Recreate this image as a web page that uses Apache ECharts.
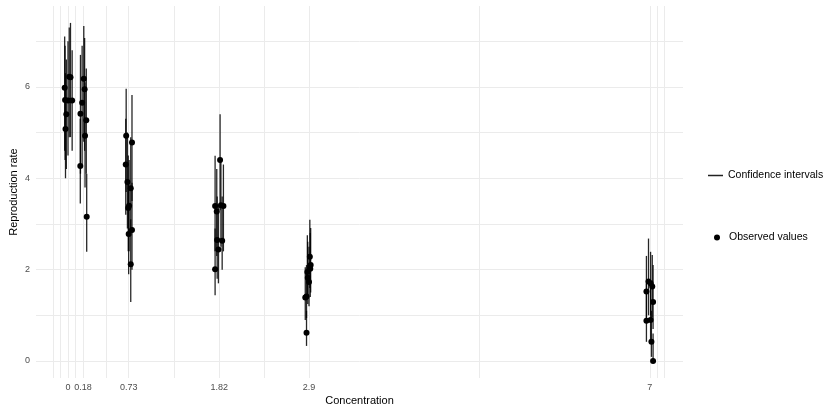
<!DOCTYPE html>
<html>
<head>
<meta charset="utf-8">
<script src="https://cdn.jsdelivr.net/npm/echarts@6/dist/echarts.min.js"></script>
<style>
  html, body { margin: 0; padding: 0; background: #fff; }
  #chart { width: 823px; height: 406px; }
</style>
</head>
<body>
<div id="chart"></div>
<script>
// x tick labels (concentrations) and grid positions
var xLabels = [0, 0.18, 0.73, 1.82, 2.9, 7];
var xGrid = [-0.18, -0.09, 0, 0.09, 0.18, 0.455, 0.73, 1.275, 1.82, 2.36, 2.9, 4.95, 7, 7.09, 7.18];
var yLabels = [0, 2, 4, 6];
var yGrid = [0, 1, 2, 3, 4, 5, 6, 7];

// jittered concentration of each observation
var xJit = [
  -0.04, -0.035, 0.03, 0.05, -0.03, 0.0, 0.015, -0.02,
  0.19, 0.20, 0.17, 0.15, 0.22, 0.205, 0.148, 0.225,
  0.70, 0.77, 0.695, 0.715, 0.755, 0.725, 0.735, 0.73, 0.77, 0.755,
  1.83, 1.77, 1.84, 1.87, 1.79, 1.795, 1.855, 1.81, 1.77,
  2.91, 2.92, 2.88, 2.885, 2.90, 2.87, 2.855, 2.87, 2.915,
  6.985, 7.01, 7.03, 6.96, 7.04, 6.96, 7.01, 7.02, 7.04
];
// observed reproduction rate
var rate = [
  5.98, 5.71, 6.21, 5.70, 5.08, 5.70, 6.22, 5.40,
  6.18, 5.95, 5.65, 5.41, 5.27, 4.93, 4.27, 3.16,
  4.93, 4.78, 4.30, 3.92, 3.78, 3.35, 3.40, 2.78, 2.87, 2.12,
  4.40, 3.39, 3.41, 3.39, 3.27, 2.65, 2.63, 2.44, 2.01,
  2.28, 2.10, 1.95, 1.82, 1.73, 1.41, 1.39, 0.62, 2.02,
  1.74, 1.70, 1.63, 1.52, 1.29, 0.88, 0.90, 0.42, 0.00
];
// confidence interval bounds
var ciLow = [
  4.6, 4.4, 4.9, 4.6, 4.0, 4.5, 4.9, 4.2,
  4.8, 4.6, 4.3, 4.1, 4.1, 3.8, 3.45, 2.39,
  3.7, 3.5, 3.2, 2.9, 2.8, 2.4, 2.4, 1.9, 2.0, 1.29,
  3.3, 2.4, 2.5, 2.4, 2.3, 1.8, 2.0, 1.7, 1.44,
  1.6, 1.5, 1.35, 1.25, 1.2, 0.94, 0.9, 0.33, 1.4,
  1.0, 1.0, 0.95, 0.85, 0.7, 0.42, 0.45, 0.09, 0.0
];
var ciHigh = [
  7.1, 6.9, 7.4, 6.8, 6.3, 7.0, 7.3, 6.6,
  7.33, 7.07, 6.9, 6.7, 6.4, 6.1, 5.3, 4.1,
  5.96, 5.82, 5.3, 5.0, 4.9, 4.5, 4.4, 3.9, 3.9, 3.1,
  5.40, 4.49, 4.45, 4.3, 4.2, 3.6, 3.6, 3.4, 2.9,
  3.09, 2.91, 2.75, 2.61, 2.5, 2.1, 2.05, 1.1, 2.8,
  2.68, 2.39, 2.32, 2.3, 2.1, 1.7, 1.75, 1.1, 0.6
];

var chart = echarts.init(document.getElementById("chart"));

var ciData = xJit.map(function (x, i) { return [x, ciLow[i], ciHigh[i]]; });
var obsData = xJit.map(function (x, i) { return [x, rate[i]]; });

var font = "Liberation Sans, Arial, sans-serif";

var option = {
  animation: false,
  backgroundColor: "#fff",
  grid: { left: 36, right: 140, top: 6, bottom: 28, outerBoundsMode: "none", containLabel: false },
  legend: [
    {
      data: [{ name: "Confidence intervals", icon: "rect" }],
      orient: "vertical",
      left: 703,
      top: 165,
      itemWidth: 15,
      itemHeight: 1.5,
      textStyle: { fontFamily: font, fontSize: 10.5, color: "#000", padding: [0, 0, 0, 0] },
      selectedMode: false
    },
    {
      data: [{ name: "Observed values", icon: "circle" }],
      orient: "vertical",
      left: 709,
      top: 227,
      itemWidth: 6,
      itemHeight: 6,
      textStyle: { fontFamily: font, fontSize: 10.5, color: "#000", padding: [0, 0, 0, 4] },
      selectedMode: false
    }
  ],
  xAxis: {
    type: "value",
    min: -0.385,
    max: 7.40,
    name: "Concentration",
    nameLocation: "middle",
    nameGap: 17,
    nameMoveOverlap: false,
    nameTextStyle: { fontFamily: font, fontSize: 11, color: "#000" },
    axisLine: { show: false },
    axisTick: { show: false, customValues: xGrid },
    axisLabel: {
      customValues: xLabels,
      hideOverlap: false,
      margin: 5,
      fontFamily: font,
      fontSize: 9,
      color: "#4d4d4d"
    },
    splitLine: { show: true, lineStyle: { color: "#ebebeb", width: 1 } }
  },
  yAxis: {
    type: "value",
    min: -0.372,
    max: 7.77,
    name: "Reproduction rate",
    nameLocation: "middle",
    nameGap: 17,
    nameMoveOverlap: false,
    nameTextStyle: { fontFamily: font, fontSize: 11, color: "#000" },
    axisLine: { show: false },
    axisTick: { show: false, customValues: yGrid },
    axisLabel: {
      customValues: yLabels,
      margin: 6,
      fontFamily: font,
      fontSize: 9,
      color: "#4d4d4d"
    },
    splitLine: { show: true, lineStyle: { color: "#ebebeb", width: 1 } }
  },
  series: [
    {
      name: "Confidence intervals",
      type: "custom",
      data: ciData,
      encode: { x: 0, y: [1, 2] },
      itemStyle: { color: "#222" },
      renderItem: function (params, api) {
        var lo = api.coord([api.value(0), api.value(1)]);
        var hi = api.coord([api.value(0), api.value(2)]);
        return {
          type: "line",
          shape: { x1: lo[0], y1: lo[1], x2: hi[0], y2: hi[1] },
          style: { stroke: "rgba(0,0,0,0.85)", lineWidth: 1.3 }
        };
      }
    },
    {
      name: "Observed values",
      type: "scatter",
      data: obsData,
      symbol: "circle",
      symbolSize: 6,
      itemStyle: { color: "#000", opacity: 1 },
      z: 3
    }
  ]
};

chart.setOption(option);
</script>
</body>
</html>
